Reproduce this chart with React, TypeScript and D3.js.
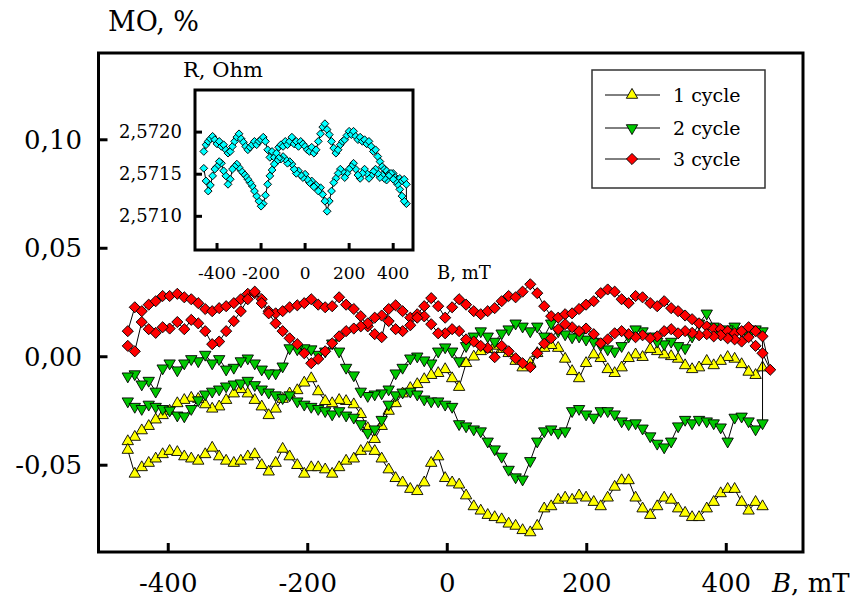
import React from 'react';
import * as d3 from 'd3';

// magnetic field values (mT) at which the main curves were read
const fieldMain = [
  -458, -448, -438, -428, -418, -408, -398, -387, -377, -367,
  -357, -347, -337, -327, -317, -306, -296, -286, -276, -266,
  -256, -246, -236, -226, -215, -205, -195, -185, -175, -165,
  -155, -145, -134, -124, -114, -104, -94, -84, -74, -64,
  -53, -43, -33, -23, -13, -3, 7, 17, 27, 38,
  48, 58, 68, 78, 88, 98, 108, 119, 129, 139,
  149, 159, 169, 179, 189, 199, 210, 220, 230, 240,
  250, 260, 270, 280, 291, 301, 311, 321, 331, 341,
  351, 361, 372, 382, 392, 402, 412, 422, 432, 442,
  452, 463,
];

// 1 cycle
const cycle1Upper = [
  -0.039, -0.037, -0.034, -0.032, -0.029, -0.027, -0.025, -0.0215, -0.020, -0.019,
  -0.0195, -0.022, -0.024, -0.023, -0.020, -0.017, -0.015, -0.017, -0.020, -0.023,
  -0.027, -0.024, -0.0195, -0.017, -0.0155, -0.012, -0.010, -0.016, -0.0205, -0.0215,
  -0.020, -0.0205, -0.022, -0.0265, -0.033, -0.038, -0.032, -0.025, -0.0215, -0.017,
  -0.0145, -0.0127, -0.0104, -0.0085, -0.0076, -0.0058, -0.010, -0.014, -0.003, 0.000,
  0.0025, 0.0035, 0.005, 0.0035, 0.0016, -0.002, -0.005, -0.003, 0.0016, 0.004,
  0.0053, 0.004, -0.001, -0.0067, -0.010, -0.003, 0.001, -0.0007, -0.0058, -0.0076,
  -0.005, -0.0007, 0.001, -0.0002, 0.0035, 0.0025, 0.001, 0.0002, -0.001, -0.004,
  -0.0058, -0.005, -0.002, -0.004, -0.002, -0.0002, -0.001, -0.0035, -0.007, -0.0085,
  -0.005,
];
const cycle1Lower = [
  -0.043, -0.054, -0.051, -0.049, -0.047, -0.045, -0.0435, -0.044, -0.046, -0.047,
  -0.048, -0.045, -0.042, -0.046, -0.048, -0.049, -0.048, -0.046, -0.045, -0.050,
  -0.053, -0.049, -0.0425, -0.046, -0.050, -0.054, -0.051, -0.051, -0.052, -0.054,
  -0.051, -0.048, -0.047, -0.0435, -0.042, -0.0435, -0.047, -0.052, -0.056, -0.058,
  -0.061, -0.062, -0.058, -0.049, -0.046, -0.056, -0.058, -0.059, -0.064, -0.069,
  -0.071, -0.073, -0.074, -0.075, -0.077, -0.078, -0.080, -0.081, -0.078, -0.070,
  -0.069, -0.066, -0.065, -0.066, -0.064, -0.065, -0.067, -0.069, -0.065, -0.060,
  -0.057, -0.057, -0.065, -0.070, -0.073, -0.069, -0.065, -0.066, -0.070, -0.072,
  -0.074, -0.074, -0.070, -0.067, -0.063, -0.061, -0.061, -0.067, -0.071, -0.067,
  -0.069,
];

// 2 cycle
const cycle2Upper = [
  -0.009, -0.008, -0.0127, -0.011, -0.016, -0.0053, -0.003, -0.0062, -0.003, -0.001,
  -0.002, 0.001, -0.003, -0.001, -0.0058, -0.005, -0.002, -0.0007, -0.003, -0.0058,
  -0.0076, -0.0076, -0.0044, 0.004, 0.0035, 0.004, 0.0035, 0.001, 0.0025, 0.0062,
  0.0025, -0.005, -0.0085, -0.016, -0.018, -0.0173, -0.0168, -0.015, -0.0076, -0.005,
  -0.0007, 0.0002, -0.0016, -0.003, 0.0025, 0.0044, 0.0025, -0.002, 0.005, 0.0094,
  0.0118, 0.0094, 0.007, 0.0108, 0.0127, 0.0154, 0.014, 0.0118, 0.014, 0.0094,
  0.0154, 0.0118, 0.0104, 0.009, 0.0094, 0.008, 0.007, 0.0053, 0.0035, 0.0025,
  0.005, 0.0094, 0.0127, 0.0118, 0.0094, 0.007, 0.0058, 0.007, 0.005, 0.004,
  0.0094, 0.0154, 0.020, 0.014, 0.0104, 0.0127, 0.014, 0.0118, 0.0099, 0.0127,
  0.0118,
];
const cycle2Lower = [
  -0.0205, -0.023, -0.024, -0.022, -0.023, -0.024, -0.0247, -0.027, -0.0274, -0.024,
  -0.020, -0.0173, -0.016, -0.015, -0.0136, -0.0127, -0.0122, -0.011, -0.013, -0.015,
  -0.0164, -0.0177, -0.019, -0.0177, -0.0205, -0.022, -0.023, -0.024, -0.025, -0.0265,
  -0.025, -0.027, -0.028, -0.031, -0.035, -0.0334, -0.029, -0.022, -0.0177, -0.0164,
  -0.016, -0.0173, -0.0196, -0.0205, -0.0205, -0.022, -0.023, -0.031, -0.032, -0.0334,
  -0.0343, -0.039, -0.0426, -0.046, -0.052, -0.0555, -0.0565, -0.048, -0.039, -0.0343,
  -0.0334, -0.035, -0.0343, -0.025, -0.024, -0.0265, -0.028, -0.025, -0.025, -0.0265,
  -0.0297, -0.031, -0.0306, -0.033, -0.0366, -0.040, -0.0417, -0.039, -0.032, -0.029,
  -0.0306, -0.029, -0.0297, -0.0306, -0.0325, -0.039, -0.028, -0.0275, -0.0297, -0.0334,
  -0.0306,
];

// 3 cycle
const cycle3Upper = [
  0.0118, 0.0228, 0.021, 0.024, 0.0256, 0.028, 0.028, 0.029, 0.0274, 0.0265,
  0.0247, 0.022, 0.021, 0.0224, 0.0233, 0.0247, 0.0265, 0.029, 0.0293, 0.0265,
  0.021, 0.020, 0.021, 0.0228, 0.0237, 0.0247, 0.0265, 0.024, 0.0228, 0.0233,
  0.0274, 0.024, 0.022, 0.0187, 0.014, 0.0104, 0.009, 0.022, 0.0237, 0.021,
  0.018, 0.0196, 0.0233, 0.027, 0.0233, 0.018, 0.0228, 0.0265, 0.024, 0.021,
  0.0196, 0.021, 0.0224, 0.0256, 0.028, 0.0274, 0.030, 0.0334, 0.0293, 0.0233,
  0.0187, 0.018, 0.0196, 0.020, 0.022, 0.024, 0.0256, 0.0293, 0.031, 0.030,
  0.0265, 0.0247, 0.028, 0.0274, 0.0247, 0.0233, 0.0256, 0.0224, 0.021, 0.019,
  0.0173, 0.0154, 0.014, 0.013, 0.0127, 0.0118, 0.0108, 0.0118, 0.0136, 0.0118,
  0.0094,
];
const cycle3Lower = [
  0.005, 0.0025, 0.016, 0.0127, 0.011, 0.0136, 0.013, 0.016, 0.0127, 0.017,
  0.0154, 0.0118, 0.0058, 0.007, 0.0118, 0.0164, 0.021, 0.0265, 0.030, 0.0247,
  0.020, 0.0154, 0.0118, 0.0085, 0.0058, 0.0016, -0.003, -0.001, 0.0025, 0.0062,
  0.0094, 0.0118, 0.013, 0.014, 0.0154, 0.018, 0.019, 0.0164, 0.0127, 0.0118,
  0.0145, 0.018, 0.0186, 0.015, 0.0108, 0.0108, 0.0127, 0.0118, 0.008, 0.007,
  0.005, 0.004, -0.0002, 0.005, 0.0025, -0.0007, -0.003, -0.0048, 0.0016, 0.006,
  0.0085, 0.0127, 0.015, 0.0136, 0.0118, 0.013, 0.0104, 0.0062, 0.008, 0.0108,
  0.0118, 0.0104, 0.009, 0.0099, 0.0085, 0.0094, 0.0118, 0.0127, 0.0108, 0.0118,
  0.011, 0.0099, 0.0104, 0.0094, 0.0099, 0.0085, 0.008, 0.007, 0.009, 0.005,
  0.0016, -0.006,
];

// inset: resistance, Ohm
const fieldInset = [
  -460, -450, -440, -430, -420, -410, -400, -390, -380, -370,
  -360, -350, -340, -330, -320, -310, -300, -290, -280, -270,
  -260, -250, -240, -230, -220, -210, -200, -190, -180, -170,
  -160, -150, -140, -130, -120, -110, -100, -90, -80, -70,
  -60, -50, -40, -30, -20, -10, 0, 10, 20, 30,
  40, 50, 60, 70, 80, 90, 100, 110, 120, 130,
  140, 150, 160, 170, 180, 190, 200, 210, 220, 230,
  240, 250, 260, 270, 280, 290, 300, 310, 320, 330,
  340, 350, 360, 370, 380, 390, 400, 410, 420, 430,
  440, 450, 460,
];
const resUpper = [
  2.57177, 2.57185, 2.57189, 2.57192, 2.57195, 2.57191, 2.57186, 2.57189, 2.57183, 2.57185,
  2.57179, 2.57175, 2.57177, 2.57183, 2.57189, 2.57194, 2.57198, 2.57192, 2.57188, 2.57183,
  2.57179, 2.57182, 2.57185, 2.57189, 2.57185, 2.57189, 2.57191, 2.57194, 2.57189, 2.57179,
  2.5717, 2.57177, 2.5717, 2.57175, 2.57182, 2.57185, 2.57183, 2.57189, 2.57185, 2.57189,
  2.57194, 2.57186, 2.57189, 2.57183, 2.57189, 2.57186, 2.57183, 2.57179, 2.57177, 2.57182,
  2.57175, 2.57179, 2.57189, 2.57198, 2.57206, 2.5721, 2.57203, 2.57197, 2.57189, 2.57181,
  2.57175, 2.57179, 2.57185, 2.57189, 2.57191, 2.57196, 2.57201, 2.57197, 2.57201, 2.57195,
  2.57191, 2.57194, 2.57189, 2.57191, 2.57186, 2.57189, 2.57183, 2.57177, 2.57179, 2.57171,
  2.57165, 2.57159, 2.57156, 2.57154, 2.5715, 2.57148, 2.57151, 2.57146, 2.57144, 2.57145,
  2.57142, 2.57144, 2.57138,
];
const resLower = [
  2.57157, 2.57142, 2.5713, 2.57137, 2.57148, 2.57156, 2.57159, 2.57165, 2.57163, 2.57154,
  2.57148, 2.57138, 2.57144, 2.57156, 2.57159, 2.57162, 2.57158, 2.57154, 2.57151, 2.57148,
  2.57144, 2.5714, 2.57136, 2.5713, 2.57124, 2.57118, 2.57112, 2.57115, 2.57125, 2.57138,
  2.57148, 2.57155, 2.57162, 2.57165, 2.57169, 2.57168, 2.57171, 2.57168, 2.57163, 2.57165,
  2.57162, 2.57156, 2.57151, 2.57154, 2.57149, 2.57146, 2.5715, 2.57144, 2.5714, 2.57142,
  2.57135, 2.57137, 2.5713, 2.57134, 2.57126, 2.57118, 2.57106, 2.57118, 2.5713, 2.5714,
  2.57145, 2.57151, 2.57156, 2.57153, 2.57146, 2.57151, 2.57156, 2.57159, 2.57163, 2.57156,
  2.57149, 2.57145, 2.57151, 2.57156, 2.57151, 2.57145, 2.57148, 2.57153, 2.57156, 2.57151,
  2.57146, 2.57149, 2.57145, 2.57143, 2.57148, 2.57151, 2.57144, 2.57142, 2.57138, 2.57132,
  2.57124, 2.57118, 2.57115,
];

const mainXTicks = [-400, -200, 0, 200, 400];
const mainYTicks = [-0.05, 0.0, 0.05, 0.1];
const insetXTicks = [-400, -200, 0, 200, 400];
const insetYTicks = [2.571, 2.5715, 2.572];
const legendLabels = ['1 cycle', '2 cycle', '3 cycle'];

const FONT = '"DejaVu Serif", serif';
const comma = (v: number, digits: number) => v.toFixed(digits).replace('.', ',');

type Pt = [number, number];
const zip = (xs: number[], ys: number[]): Pt[] => ys.map((v, i) => [xs[i], v] as Pt);

const triUp = d3.symbol().type(d3.symbolTriangle).size(56)()!;
const square = d3.symbol().type(d3.symbolSquare).size(62)()!;
const squareSmall = d3.symbol().type(d3.symbolSquare).size(30)()!;

function Markers({ pts, sx, sy, path, fill, rotate }: any) {
  return (
    <g>
      {pts.map((p: Pt, i: number) => (
        <path key={i} d={path} fill={fill} stroke="#000" strokeWidth={0.9}
          transform={`translate(${sx(p[0])},${sy(p[1])}) rotate(${rotate})`} />
      ))}
    </g>
  );
}

export default function App() {
  const x = d3.scaleLinear().domain([-500, 510]).range([98.5, 803]);
  const y = d3.scaleLinear().domain([-0.09, 0.14]).range([552, 53]);
  const ix = d3.scaleLinear().domain([-500, 490]).range([195, 413]);
  const iy = d3.scaleLinear().domain([2.5706, 2.5725]).range([250, 90]);

  const line = d3.line<Pt>().x(d => x(d[0])).y(d => y(d[1]));
  const iline = d3.line<Pt>().x(d => ix(d[0])).y(d => iy(d[1]));

  // each cycle: one branch out, the other back
  const c1 = zip(fieldMain, cycle1Upper).reverse().concat(zip(fieldMain, cycle1Lower));
  const c2 = zip(fieldMain, cycle2Lower).concat(zip(fieldMain, cycle2Upper).reverse());
  const c3 = zip(fieldMain, cycle3Upper).concat(zip(fieldMain, cycle3Lower).reverse());
  const res = zip(fieldInset, resUpper).concat(zip(fieldInset, resLower).reverse());

  const series = [
    { pts: c1, fill: '#ffff00', path: triUp, rotate: 0 },
    { pts: c2, fill: '#00c800', path: triUp, rotate: 180 },
    { pts: c3, fill: '#ff0000', path: square, rotate: 45 },
  ];

  const x0 = 98.5, x1 = 803, y0 = 53, y1 = 552;

  return (
    <svg width={854} height={600} style={{ position: 'absolute', left: 0, top: 0, background: '#fff' }}
      fontFamily={FONT}>
      <rect width={854} height={600} fill="#fff" />

      {/* data */}
      {series.map((s, k) => (
        <g key={k}>
          <path d={line(s.pts)!} fill="none" stroke="#000" strokeWidth={1} />
          <Markers pts={s.pts} sx={x} sy={y} path={s.path} fill={s.fill} rotate={s.rotate} />
        </g>
      ))}

      {/* main frame and ticks */}
      <rect x={x0} y={y0} width={x1 - x0} height={y1 - y0} fill="none" stroke="#000" strokeWidth={3} />
      {mainXTicks.map(t => (
        <g key={t}>
          <line x1={x(t)} x2={x(t)} y1={y1} y2={y1 - 9} stroke="#000" strokeWidth={3} />
          <text x={x(t)} y={592} fontSize={26} textAnchor="middle">{t < 0 ? '-' + Math.abs(t) : t}</text>
        </g>
      ))}
      {mainYTicks.map(t => (
        <g key={t}>
          <line x1={x0} x2={x0 + 9} y1={y(t)} y2={y(t)} stroke="#000" strokeWidth={3} />
          <text x={82} y={y(t) + 9} fontSize={26} textAnchor="end">{t < 0 ? '-' + comma(-t, 2) : comma(t, 2)}</text>
        </g>
      ))}
      <text x={108} y={31} fontSize={27}>MO, %</text>
      <text x={772} y={592} fontSize={26}><tspan fontStyle="italic">B</tspan>, mT</text>

      {/* legend */}
      <rect x={592} y={70} width={173} height={118} fill="#fff" stroke="#333" strokeWidth={1.5} />
      {series.map((s, k) => {
        const ly = [95, 128, 159][k];
        return (
          <g key={k}>
            <line x1={605} x2={660} y1={ly} y2={ly} stroke="#000" strokeWidth={1} />
            <path d={s.path} fill={s.fill} stroke="#000" strokeWidth={0.9}
              transform={`translate(632,${ly}) rotate(${s.rotate})`} />
            <text x={673} y={ly + 7} fontSize={19}>{legendLabels[k]}</text>
          </g>
        );
      })}

      {/* inset */}
      <rect x={195} y={90} width={218} height={160} fill="#fff" stroke="#000" strokeWidth={3} />
      <path d={iline(res)!} fill="none" stroke="#000" strokeWidth={1} />
      <Markers pts={res} sx={ix} sy={iy} path={squareSmall} fill="#00ffff" rotate={45} />
      {insetXTicks.map(t => (
        <g key={t}>
          <line x1={ix(t)} x2={ix(t)} y1={250} y2={243} stroke="#000" strokeWidth={3} />
          <text x={ix(t)} y={279} fontSize={17} textAnchor="middle">{t < 0 ? '-' + Math.abs(t) : t}</text>
        </g>
      ))}
      {insetYTicks.map(t => (
        <g key={t}>
          <line x1={195} x2={202} y1={iy(t)} y2={iy(t)} stroke="#000" strokeWidth={3} />
          <text x={182} y={iy(t) + 6} fontSize={18} textAnchor="end">{comma(t, 4)}</text>
        </g>
      ))}
      <text x={183} y={77} fontSize={21}>R, Ohm</text>
      <text x={437} y={279} fontSize={18}>B, mT</text>
    </svg>
  );
}
